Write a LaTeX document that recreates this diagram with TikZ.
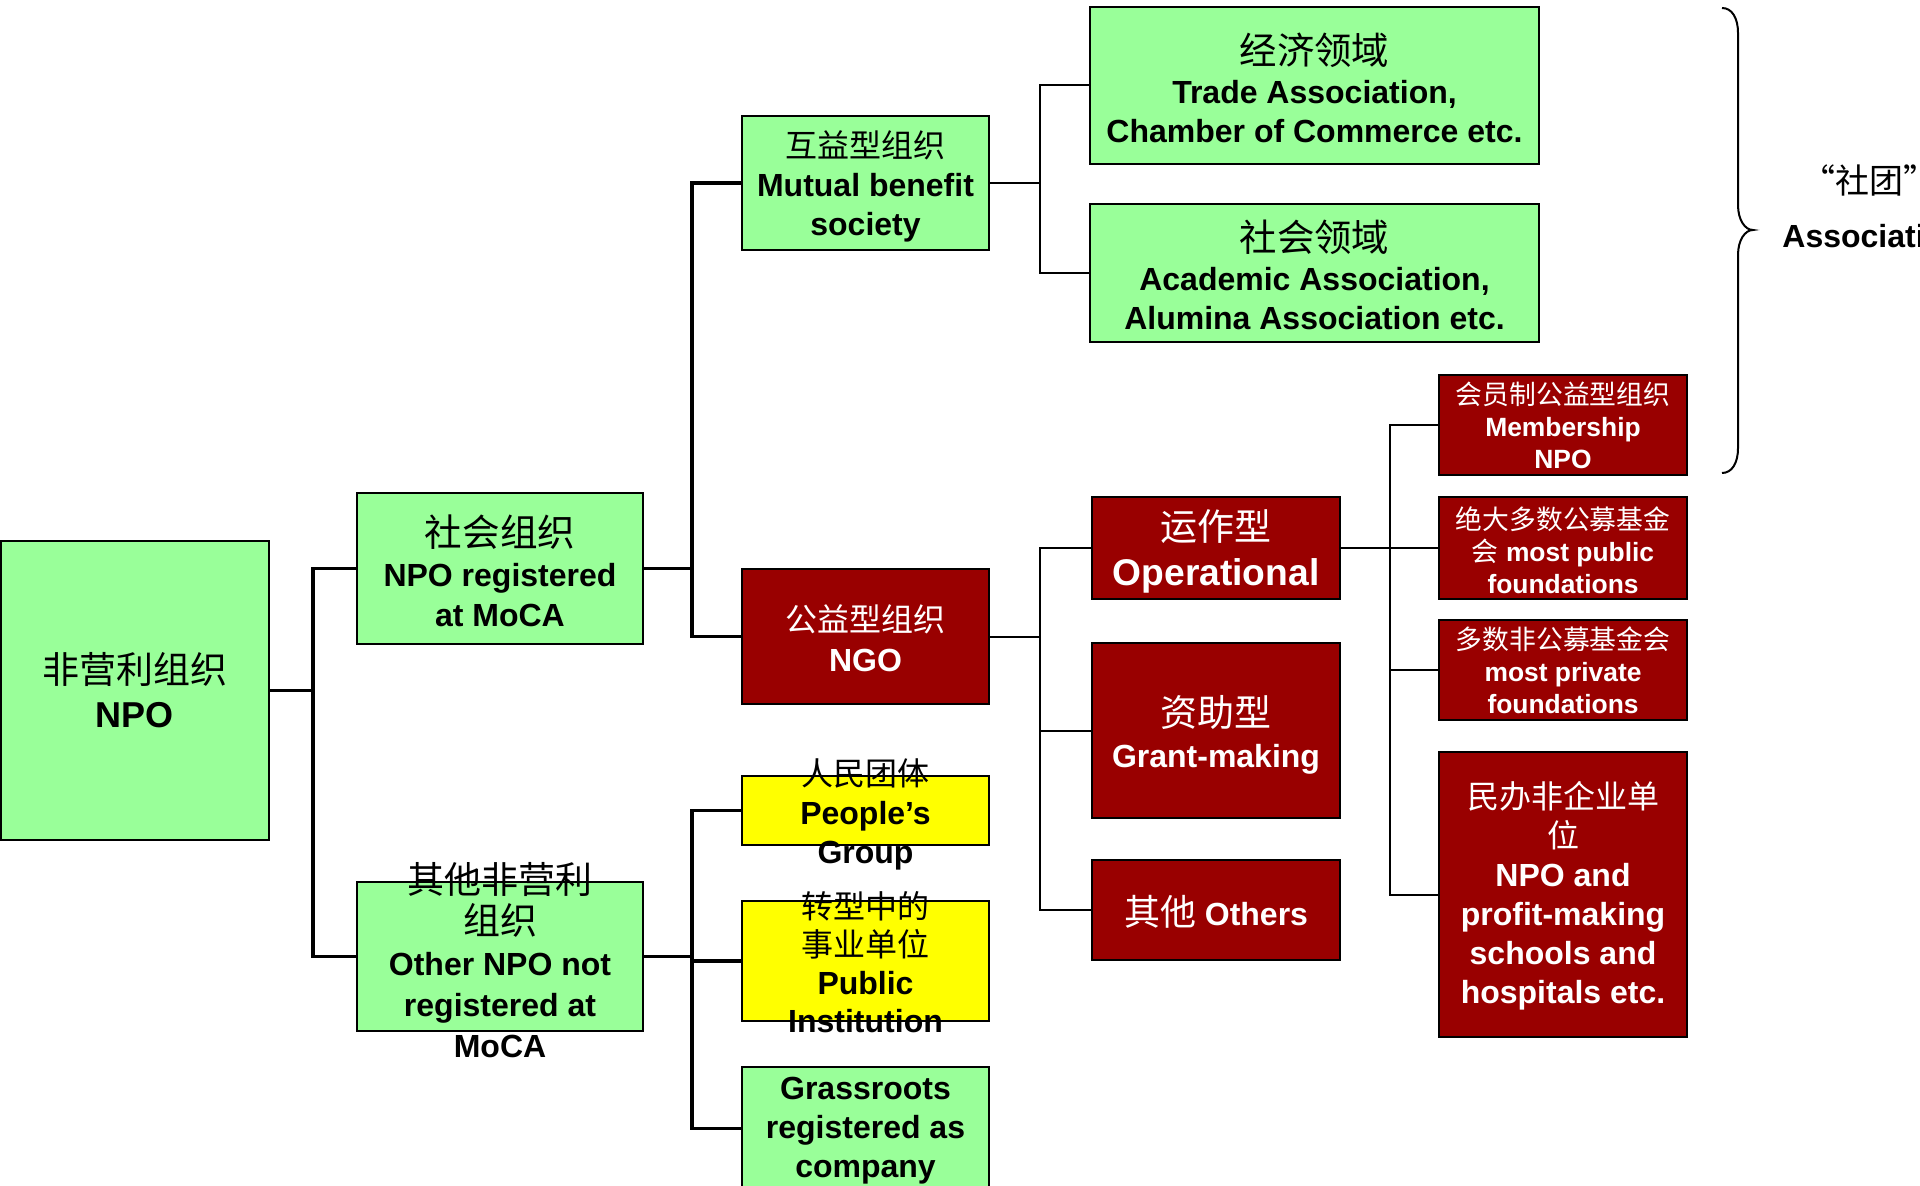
\documentclass[tikz,border=0pt]{standalone}
\usepackage{fontspec}
\setmainfont{Liberation Sans}
\newfontfamily\cjk{Noto Sans CJK SC}
\newcommand\zhs[2]{{\fontsize{#1}{#1}\cjk\mdseries\selectfont #2}}
\definecolor{lg}{HTML}{99FF99}
\definecolor{dr}{HTML}{990000}
\definecolor{yl}{HTML}{FFFF00}
\begin{document}
\begin{tikzpicture}[x=0.5pt,y=-0.5pt,
  box/.style={draw=black, line width=0.7pt, inner sep=0pt, outer sep=0pt},
  gbox/.style={box, fill=lg},
  rbox/.style={box, fill=dr},
  ybox/.style={box, fill=yl},
  lbl/.style={align=center, inner sep=0pt, font=\bfseries\fontsize{16}{19.5}\selectfont},
  wlbl/.style={lbl, text=white},
  thk/.style={line width=1.85pt},
  thn/.style={line width=1pt}]
\useasboundingbox (0,0) rectangle (1920,1186);
\clip (0,0) rectangle (1920,1186);
\fill[white] (0,0) rectangle (1920,1186);

% boxes
\node[gbox, minimum width=134pt, minimum height=149.5pt] (npo) at (135,690.5) {};
\node[gbox, minimum width=143pt, minimum height=75.5pt] (reg) at (500,568.5) {};
\node[gbox, minimum width=143pt, minimum height=74.5pt] (oth) at (500,956.5) {};
\node[gbox, minimum width=123.5pt, minimum height=67pt] (mut) at (865.5,183) {};
\node[rbox, minimum width=123.5pt, minimum height=67.5pt] (ngo) at (865.5,636.5) {};
\node[ybox, minimum width=123.5pt, minimum height=34.5pt] (peo) at (865.5,810.5) {};
\node[ybox, minimum width=123.5pt, minimum height=60pt] (pub) at (865.5,961) {};
\node[gbox, minimum width=123.5pt, minimum height=61.5pt] (gra) at (865.5,1128.5) {};
\node[gbox, minimum width=224.5pt, minimum height=78.5pt] (eco) at (1314.5,85.5) {};
\node[gbox, minimum width=224.5pt, minimum height=69pt] (soc) at (1314.5,273) {};
\node[rbox, minimum width=124pt, minimum height=51pt] (ope) at (1216,548) {};
\node[rbox, minimum width=124pt, minimum height=87.5pt] (grm) at (1216,730.5) {};
\node[rbox, minimum width=124pt, minimum height=50pt] (oths) at (1216,910) {};
\node[rbox, minimum width=124pt, minimum height=50pt] (mem) at (1563,425) {};
\node[rbox, minimum width=124pt, minimum height=51pt] (pubf) at (1563,548) {};
\node[rbox, minimum width=124pt, minimum height=50pt] (prif) at (1563,670) {};
\node[rbox, minimum width=124pt, minimum height=142.5pt] (minb) at (1563,894.5) {};

% labels
\node[lbl, font=\bfseries\fontsize{18}{22}\selectfont] (l-npo) at (npo.center) {\zhs{18.5}{非营利组织}\\NPO};
\node[lbl, font=\bfseries\fontsize{16}{20}\selectfont] (l-reg) at (500,571) {\zhs{18.8}{社会组织}\\NPO registered\\at MoCA};
\node[lbl, font=\bfseries\fontsize{16}{20.5}\selectfont] (l-oth) at (500,960) {\zhs{18.5}{其他非营利}\\\zhs{18.5}{组织}\\Other NPO not\\registered at\\MoCA};
\node[lbl] (l-mut) at (865.5,186) {\zhs{16}{互益型组织}\\Mutual benefit\\society};
\node[wlbl, font=\bfseries\fontsize{16}{20}\selectfont] (l-ngo) at (865.5,638) {\zhs{16}{公益型组织}\\NGO};
\node[lbl] (l-peo) at (865.5,814) {\zhs{16}{人民团体}\\People’s\\Group};
\node[lbl, font=\bfseries\fontsize{16}{19}\selectfont] (l-pub) at (865.5,962) {\zhs{16}{转型中的}\\\zhs{16}{事业单位}\\Public\\Institution};
\node[lbl] (l-gra) at (865.5,1131) {Grassroots\\registered as\\company};
\node[lbl, font=\bfseries\fontsize{16}{19.5}\selectfont] (l-eco) at (1314.5,88) {\zhs{18.7}{经济领域}\\Trade Association,\\Chamber of Commerce etc.};
\node[lbl, font=\bfseries\fontsize{16}{19.5}\selectfont] (l-soc) at (1314.5,275) {\zhs{18.7}{社会领域}\\Academic Association,\\Alumina Association etc.};
\node[wlbl, font=\bfseries\fontsize{18.6}{22.5}\selectfont] (l-ope) at (1216,551) {\zhs{18.5}{运作型}\\Operational};
\node[wlbl, font=\bfseries\fontsize{16}{20.5}\selectfont] (l-grm) at (1216,735) {\zhs{18.5}{资助型}\\Grant-making};
\node[wlbl] (l-oths) at (1216,912) {\zhs{18}{其他} Others};
\node[wlbl, font=\bfseries\fontsize{13.2}{16}\selectfont] (l-mem) at (mem.center) {\zhs{13.4}{会员制公益型组织}\\Membership\\NPO};
\node[wlbl, font=\bfseries\fontsize{13.2}{16}\selectfont] (l-pubf) at (1563,550) {\zhs{13.4}{绝大多数公募基金}\\\zhs{13.4}{会} most public\\foundations};
\node[wlbl, font=\bfseries\fontsize{13.2}{16}\selectfont] (l-prif) at (prif.center) {\zhs{13.4}{多数非公募基金会}\\most private\\foundations};
\node[wlbl] (l-minb) at (1563,896) {\zhs{16}{民办非企业单}\\\zhs{16}{位}\\NPO and\\profit-making\\schools and\\hospitals etc.};

% connectors
\draw[thk] (npo.east) -- ++(44,0) coordinate (b1);
\draw[thk] (reg.west) -| (b1) |- (oth.west);
\draw[thk] (reg.east) -- ++(49,0) coordinate (b2);
\draw[thk] (mut.west) -| (b2) |- (ngo.west);
\draw[thk] (oth.east) -- ++(49,0) coordinate (b2b);
\draw[thk] (peo.west) -| (b2b) |- (gra.west);
\draw[thk] (b2b |- pub.west) -- (pub.west);
\draw[thn] (mut.east) -- ++(51,0) coordinate (b3);
\draw[thn] (eco.west) -| (b3) |- (soc.west);
\draw[thn] (ngo.east) -- ++(51,0) coordinate (b4);
\draw[thn] (ope.west) -| (b4) |- (oths.west);
\draw[thn] (b4 |- grm.west) -- (grm.west);
\draw[thn] (ope.east) -- ++(50,0) coordinate (b5);
\draw[thn] (mem.west) -| (b5) |- (minb.west);
\draw[thn] (b5) -- (pubf.west);
\draw[thn] (b5 |- prif.west) -- (prif.west);

% brace and side text
\draw[line width=1pt] (1722,8) .. controls (1732,8) and (1738,18) .. (1738,33) -- (1738,205)
  .. controls (1738,220) and (1745,230) .. (1753,230)
  .. controls (1745,230) and (1738,240) .. (1738,255) -- (1738,448)
  .. controls (1738,463) and (1732,473) .. (1722,473);
\node[anchor=west, inner sep=0pt] (st) at (1801,180) {\zhs{17}{“社团”}};
\node[anchor=west, inner sep=0pt, font=\bfseries\fontsize{16}{19.5}\selectfont] (as) at (1782,236) {Association};
\end{tikzpicture}
\end{document}
